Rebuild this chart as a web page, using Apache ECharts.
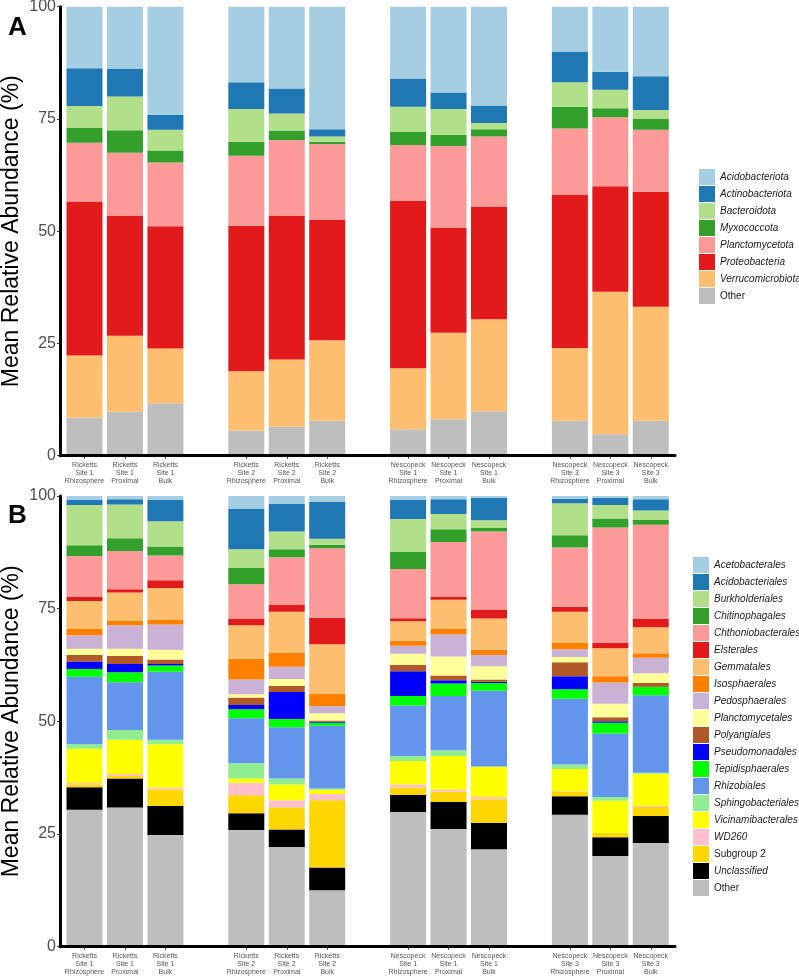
<!DOCTYPE html>
<html>
<head>
<meta charset="utf-8">
<script src="https://cdn.jsdelivr.net/npm/echarts@6/dist/echarts.min.js"></script>
<style>
html,body{margin:0;padding:0;background:#fff;}
#chart{width:799px;height:976px;}
</style>
</head>
<body>
<div id="chart"></div>
<script>
// Sample labels (x axis)
const sampleLabels = [
  'Ricketts\nSite 1\nRhizosphere','Ricketts\nSite 1\nProximal','Ricketts\nSite 1\nBulk',
  'Ricketts\nSite 2\nRhizosphere','Ricketts\nSite 2\nProximal','Ricketts\nSite 2\nBulk',
  'Nescopeck\nSite 1\nRhizosphere','Nescopeck\nSite 1\nProximal','Nescopeck\nSite 1\nBulk',
  'Nescopeck\nSite 3\nRhizosphere','Nescopeck\nSite 3\nProximal','Nescopeck\nSite 3\nBulk'
];
const yTicks = [0, 25, 50, 75, 100];

// Panel A (phylum), values in % per sample
const phylumOther       = [8.5, 9.8, 11.7, 5.6, 6.5, 7.8, 5.9, 8.1, 9.9, 7.8, 4.8, 7.8];
const verrucomicrobiota = [13.8, 16.9, 12.2, 13.2, 14.9, 17.9, 13.6, 19.3, 20.5, 16.2, 31.7, 25.4];
const proteobacteria    = [34.3, 26.7, 27.2, 32.4, 32.0, 26.8, 37.2, 23.3, 25.1, 34.2, 23.5, 25.6];
const planctomycetota   = [13.1, 14.1, 14.2, 15.6, 16.9, 16.9, 12.5, 18.3, 15.6, 14.7, 15.4, 13.8];
const myxococcota       = [3.3, 5.0, 2.7, 3.1, 2.1, 0.5, 2.9, 2.5, 1.6, 4.8, 2.0, 2.4];
const bacteroidota      = [4.9, 7.5, 4.6, 7.3, 3.8, 1.2, 5.6, 5.7, 1.4, 5.5, 4.1, 2.0];
const actinobacteriota  = [8.4, 6.1, 3.3, 6.0, 5.6, 1.6, 6.3, 3.7, 3.9, 6.8, 4.0, 7.5];
const acidobacteriota   = [13.7, 13.9, 24.1, 16.8, 18.2, 27.3, 16.0, 19.1, 22.0, 10.0, 14.5, 15.5];

// Panel B (order), values in % per sample
const orderOther         = [30.4, 30.9, 24.8, 25.9, 22.1, 12.5, 29.9, 26.1, 21.6, 29.3, 20.1, 23.0];
const unclassified       = [5.0, 6.4, 6.4, 3.7, 3.9, 5.1, 3.8, 6.0, 5.9, 4.1, 4.2, 6.0];
const subgroup2          = [0.6, 0.6, 3.7, 4.0, 4.9, 14.9, 1.6, 2.3, 5.2, 0.9, 0.9, 2.0];
const wd260              = [0.3, 0.4, 0.4, 2.8, 1.6, 1.4, 0.7, 0.5, 0.5, 0.2, 0.1, 0.3];
const vicinamibacterales = [7.6, 7.6, 9.6, 0.9, 3.5, 0.9, 5.2, 7.4, 6.7, 4.9, 7.1, 7.1];
const sphingobacteriales = [1.0, 2.2, 1.0, 3.4, 1.3, 0.3, 1.1, 1.3, 0.1, 1.0, 0.8, 0.2];
const rhizobiales        = [15.0, 10.6, 15.1, 10.0, 11.4, 13.9, 11.2, 12.0, 16.8, 14.6, 14.1, 17.2];
const tepidisphaerales   = [1.7, 2.2, 1.4, 2.0, 1.8, 0.7, 2.1, 2.8, 1.7, 2.1, 2.4, 1.8];
const pseudomonadales    = [1.7, 1.8, 0.3, 0.9, 6.0, 0.2, 5.5, 0.7, 0.3, 2.9, 0.3, 0.1];
const polyangiales       = [1.4, 1.8, 1.0, 1.7, 1.4, 0.3, 1.4, 1.1, 0.5, 3.1, 0.9, 0.8];
const planctomycetales   = [1.4, 1.6, 2.2, 0.7, 1.5, 1.6, 2.5, 4.2, 2.9, 1.2, 3.0, 2.2];
const pedosphaerales     = [3.0, 5.2, 5.6, 3.3, 2.7, 1.6, 1.8, 4.9, 2.5, 1.7, 4.7, 3.4];
const isosphaerales      = [1.4, 1.1, 1.0, 4.6, 3.2, 2.8, 1.1, 1.3, 1.2, 1.4, 1.4, 1.0];
const gemmatales         = [6.2, 6.2, 7.1, 7.4, 9.0, 10.9, 4.3, 6.4, 6.9, 6.9, 6.2, 5.8];
const elsterales         = [0.9, 0.7, 1.7, 1.5, 1.6, 5.9, 0.7, 0.6, 1.9, 1.1, 1.2, 1.8];
const chthoniobacterales = [9.1, 8.5, 5.5, 7.6, 10.5, 15.4, 10.9, 12.2, 17.4, 13.2, 25.6, 20.9];
const chitinophagales    = [2.4, 2.8, 2.0, 3.6, 1.8, 0.8, 3.8, 2.8, 0.8, 2.7, 2.0, 1.1];
const burkholderiales    = [8.9, 7.5, 5.6, 4.2, 3.9, 1.3, 7.3, 3.4, 1.7, 7.1, 3.0, 2.1];
const acidobacteriales   = [1.1, 1.2, 4.7, 8.9, 6.1, 8.2, 4.2, 3.3, 5.0, 1.0, 1.6, 2.5];
const acetobacterales    = [0.9, 0.7, 0.9, 2.9, 1.8, 1.3, 0.9, 0.7, 0.4, 0.6, 0.4, 0.7];

// Series definitions (bottom of stack first): [name, values, colour]
const seriesA = [
  ['Other', phylumOther, '#BEBEBE'],
  ['Verrucomicrobiota', verrucomicrobiota, '#FDBF6F'],
  ['Proteobacteria', proteobacteria, '#E31A1C'],
  ['Planctomycetota', planctomycetota, '#FB9A99'],
  ['Myxococcota', myxococcota, '#33A02C'],
  ['Bacteroidota', bacteroidota, '#B2DF8A'],
  ['Actinobacteriota', actinobacteriota, '#1F78B4'],
  ['Acidobacteriota', acidobacteriota, '#A6CEE3']
];
const seriesB = [
  ['Other', orderOther, '#BEBEBE'],
  ['Unclassified', unclassified, '#000000'],
  ['Subgroup 2', subgroup2, '#FFD700'],
  ['WD260', wd260, '#FFC0CB'],
  ['Vicinamibacterales', vicinamibacterales, '#FFFF00'],
  ['Sphingobacteriales', sphingobacteriales, '#90EE90'],
  ['Rhizobiales', rhizobiales, '#6495ED'],
  ['Tepidisphaerales', tepidisphaerales, '#00FF00'],
  ['Pseudomonadales', pseudomonadales, '#0000FF'],
  ['Polyangiales', polyangiales, '#B15928'],
  ['Planctomycetales', planctomycetales, '#FFFF99'],
  ['Pedosphaerales', pedosphaerales, '#CAB2D6'],
  ['Isosphaerales', isosphaerales, '#FF7F00'],
  ['Gemmatales', gemmatales, '#FDBF6F'],
  ['Elsterales', elsterales, '#E31A1C'],
  ['Chthoniobacterales', chthoniobacterales, '#FB9A99'],
  ['Chitinophagales', chitinophagales, '#33A02C'],
  ['Burkholderiales', burkholderiales, '#B2DF8A'],
  ['Acidobacteriales', acidobacteriales, '#1F78B4'],
  ['Acetobacterales', acetobacterales, '#A6CEE3']
];
const legendOrderA = ['Acidobacteriota','Actinobacteriota','Bacteroidota','Myxococcota',
  'Planctomycetota','Proteobacteria','Verrucomicrobiota','Other'];
const legendOrderB = ['Acetobacterales','Acidobacteriales','Burkholderiales','Chitinophagales',
  'Chthoniobacterales','Elsterales','Gemmatales','Isosphaerales','Pedosphaerales','Planctomycetales',
  'Polyangiales','Pseudomonadales','Tepidisphaerales','Rhizobiales','Sphingobacteriales',
  'Vicinamibacterales','WD260','Subgroup 2','Unclassified','Other'];

// Category slots: groups of 3 samples separated by one empty slot
const slots = [];
sampleLabels.forEach((lab, i) => { if (i > 0 && i % 3 === 0) slots.push(''); slots.push(lab); });
function toSlots(values) {
  const out = []; let k = 0;
  slots.forEach(s => { out.push(s === '' ? null : values[k++]); });
  return out;
}

const FONT = 'Liberation Sans, Arial, Helvetica, sans-serif';

function makeSeries(defs, axisIdx, stack) {
  return defs.map(d => ({
    name: d[0], type: 'bar', stack: stack,
    xAxisIndex: axisIdx, yAxisIndex: axisIdx,
    barWidth: 36,
    itemStyle: { color: d[2] },
    emphasis: { disabled: true },
    data: toSlots(d[1])
  }));
}

// Panels: outer grid carries the axis lines / y labels, inner grid carries the bars
const panelTop = [6.7, 496];
const panelH = [449, 450.7];
const grids = [], xAxes = [], yAxes = [];
[0, 1].forEach(p => {
  grids.push({ left: 60, width: 615, top: panelTop[p], height: panelH[p], outerBoundsMode: 'none', containLabel: false });
  grids.push({ left: 64.3, width: 606.7, top: panelTop[p], height: panelH[p], outerBoundsMode: 'none', containLabel: false });
});
[0, 1].forEach(p => {
  xAxes.push({
    type: 'value', gridIndex: 2 * p, min: 0, max: 1,
    splitLine: { show: false }, axisTick: { show: false }, axisLabel: { show: false },
    axisLine: { show: true, onZero: false, lineStyle: { color: '#000', width: 3 } }, z: 5
  });
  xAxes.push({
    type: 'category', gridIndex: 2 * p + 1, data: slots,
    axisLine: { show: false },
    axisTick: { show: true, alignWithLabel: true, interval: (i, v) => v !== '', length: 3, lineStyle: { color: '#333', width: 1 } },
    axisLabel: { interval: (i, v) => v !== '', fontSize: 7, lineHeight: 7.6, color: '#555', margin: 6, fontFamily: FONT }
  });
  yAxes.push({
    type: 'value', gridIndex: 2 * p, min: yTicks[0], max: yTicks[yTicks.length - 1], interval: 25,
    splitLine: { show: false },
    axisLine: { show: true, lineStyle: { color: '#000', width: 3 } },
    axisTick: { show: true, length: 3, lineStyle: { color: '#333', width: 1 } },
    axisLabel: { fontSize: 16, color: '#4d4d4d', margin: 4, fontFamily: FONT },
    name: 'Mean Relative Abundance (%)', nameLocation: 'middle', nameGap: 37,
    nameMoveOverlap: false,
    nameTextStyle: { fontSize: 23, color: '#000', fontFamily: FONT }, z: 5
  });
  yAxes.push({
    type: 'value', gridIndex: 2 * p + 1, min: yTicks[0], max: yTicks[yTicks.length - 1], show: false
  });
});

const legendFormatter = name =>
  (name === 'Other' || name === 'Subgroup 2') ? '{n|' + name + '}' : '{i|' + name + '}';
const legendText = {
  fontFamily: FONT,
  rich: {
    i: { fontStyle: 'italic', fontSize: 10, color: '#1a1a1a', fontFamily: FONT },
    n: { fontSize: 10, color: '#1a1a1a', fontFamily: FONT }
  }
};

const chart = echarts.init(document.getElementById('chart'), null, { renderer: 'canvas' });
chart.setOption({
  animation: false,
  backgroundColor: '#fff',
  title: [
    { text: 'A', left: 3, top: 10, textStyle: { fontSize: 26, fontWeight: 'bold', color: '#000', fontFamily: FONT } },
    { text: 'B', left: 3, top: 498, textStyle: { fontSize: 26, fontWeight: 'bold', color: '#000', fontFamily: FONT } }
  ],
  grid: grids,
  xAxis: xAxes,
  yAxis: yAxes,
  legend: [
    {
      orient: 'vertical', left: 694, top: 164, itemWidth: 16, itemHeight: 16, itemGap: 1,
      icon: 'rect', selectedMode: false, data: legendOrderA,
      formatter: legendFormatter, textStyle: legendText
    },
    {
      orient: 'vertical', left: 688, top: 552, itemWidth: 16, itemHeight: 16, itemGap: 1,
      icon: 'rect', selectedMode: false, data: legendOrderB,
      formatter: legendFormatter, textStyle: legendText
    }
  ],
  series: makeSeries(seriesA, 1, 'A').concat(makeSeries(seriesB, 3, 'B'))
});
</script>
</body>
</html>
